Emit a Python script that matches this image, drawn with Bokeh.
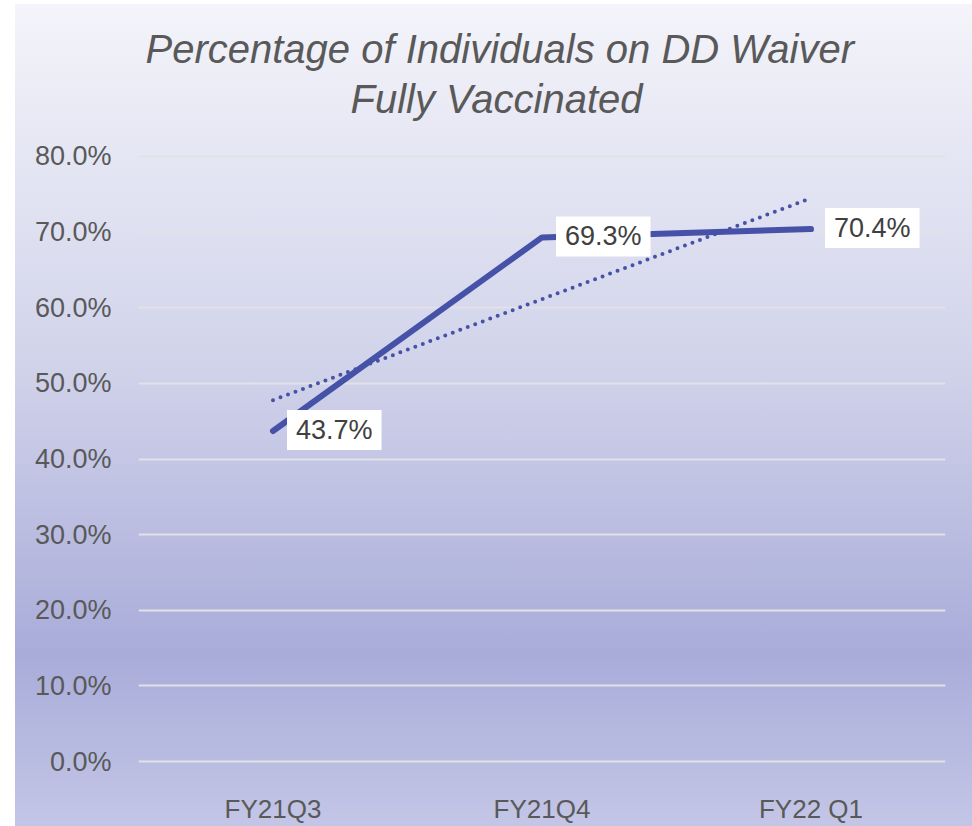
import numpy as np
from bokeh.plotting import figure
from bokeh.models import (ColumnDataSource, Label, FixedTicker, PrintfTickFormatter,
                          FactorRange, Range1d, Title)
from bokeh.embed import file_html
from bokeh.resources import INLINE

# ---- data ----
categories = ["FY21Q3", "FY21Q4", "FY22 Q1"]
values = [43.7, 69.3, 70.4]
value_labels = ["43.7%", "69.3%", "70.4%"]
y_ticks = [0, 10, 20, 30, 40, 50, 60, 70, 80]
title_line1 = "Percentage of Individuals on DD Waiver"
title_line2 = "Fully Vaccinated"

# linear trendline (as in the spreadsheet) fitted on the series
xi = np.arange(1, len(values) + 1)
slope, intercept = np.polyfit(xi, values, 1)
trend_x = [categories[0], categories[-1]]
trend_y = [slope * xi[0] + intercept, slope * xi[-1] + intercept]

LINE_COLOR = "#4652a8"
TEXT_GRAY = "#595959"
FONT = "Liberation Sans"

p = figure(width=972, height=826, title=None,
           x_range=FactorRange(*categories, range_padding=0),
           y_range=Range1d(-0.26, 80.26),
           output_backend="svg", toolbar_location=None,
           min_border_left=138, min_border_right=27,
           min_border_top=154, min_border_bottom=63)

p.styles = {
    "background-color": "white",
    "background-image": "linear-gradient(to bottom, #f4f4fa 0%, #d0d2ea 45%, #a9acd9 79%, #c3c6e6 100%)",
    "background-repeat": "no-repeat",
    "background-position": "15px 4px",
    "background-size": "957px 822px",
}
p.background_fill_color = None
p.border_fill_color = None
p.outline_line_color = None

# spacer between plot frame and title
p.add_layout(Title(text=" ", text_font_size="1px", standoff=31), "above")
# two-line title (centred over the whole chart area)
for txt, off, so in ((title_line2, 212, 0), (title_line1, 7, 8)):
    p.add_layout(Title(text=txt, align="left", offset=off,
                       text_font=FONT, text_font_size="40px",
                       text_font_style="italic", text_color=TEXT_GRAY,
                       standoff=so), "above")

# grid
p.xgrid.grid_line_color = None
p.ygrid.grid_line_color = "#e2e2e6"
p.ygrid.grid_line_width = 2
p.ygrid.ticker = FixedTicker(ticks=y_ticks)

# axes
p.yaxis.ticker = FixedTicker(ticks=y_ticks)
p.yaxis.formatter = PrintfTickFormatter(format="%.1f%%")
for ax in (p.xaxis[0], p.yaxis[0]):
    ax.axis_line_color = None
    ax.major_tick_line_color = None
    ax.minor_tick_line_color = None
    ax.major_label_text_font = FONT
    ax.major_label_text_color = TEXT_GRAY
p.yaxis.major_label_text_font_size = "27px"
p.yaxis.major_label_standoff = 21
p.xaxis.major_label_text_font_size = "26px"
p.xaxis.major_label_standoff = 24

# series
src = ColumnDataSource(dict(cat=categories, val=values, lbl=value_labels))
p.line("cat", "val", source=src, line_color=LINE_COLOR, line_width=6,
       line_cap="round", line_join="round")

# trendline (dotted)
p.line(trend_x, trend_y, line_color=LINE_COLOR, line_width=4,
       line_dash="0 8", line_cap="round")

# data labels (x given as the synthetic coordinate of each factor's centre)
for i, (v, t) in enumerate(zip(values, value_labels)):
    p.add_layout(Label(x=i + 0.5, y=v, text=t, x_offset=14, y_offset=1,
                       text_align="left", text_baseline="middle",
                       text_font=FONT, text_font_size="27px", text_color="#404040",
                       background_fill_color="white", padding=dict(x=9, y=5)))

open("out.html", "w").write(file_html(p, INLINE))
